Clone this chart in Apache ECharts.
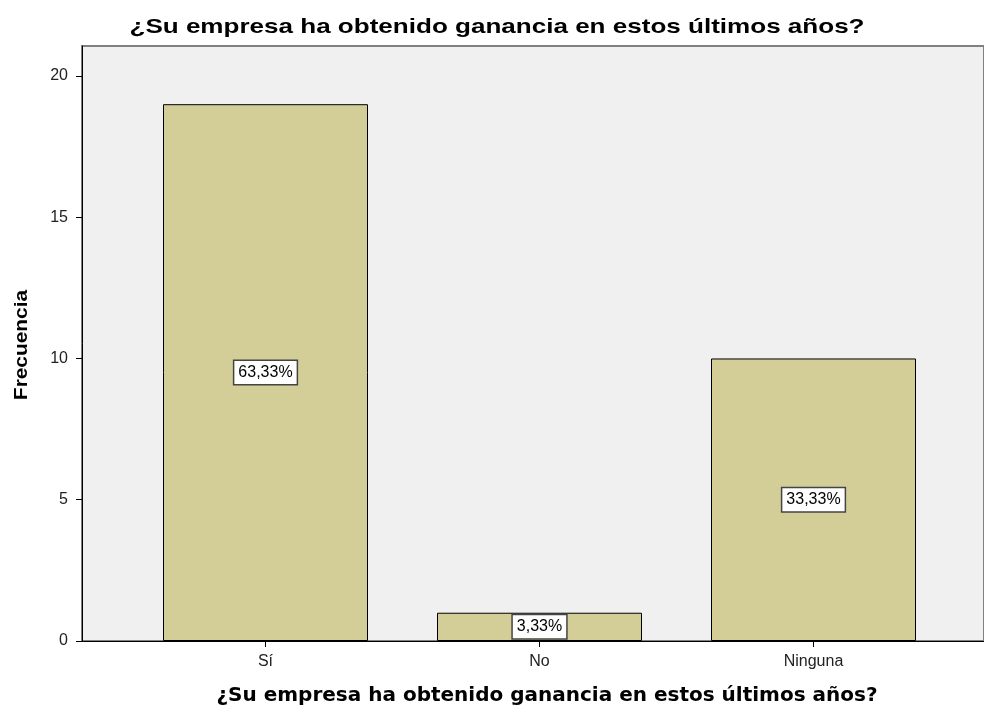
<!DOCTYPE html>
<html>
<head>
<meta charset="utf-8">
<script src="https://cdn.jsdelivr.net/npm/echarts@6/dist/echarts.min.js"></script>
<style>html,body{margin:0;padding:0;background:#fff}#c{width:984px;height:709px}</style>
</head>
<body>
<div id="c"></div>
<script>
var categories = ['Sí', 'No', 'Ninguna'];
var frequencies = [19, 1, 10];
var percentLabels = ['63,33%', '3,33%', '33,33%'];
var yTicks = [0, 5, 10, 15, 20];
var titleText = '¿Su empresa ha obtenido ganancia en estos últimos años?';
var xName = '¿Su empresa ha obtenido ganancia en estos últimos años?';
var yName = 'Frecuencia';

var FONT = '"Liberation Sans", Arial, sans-serif';
var YMAX = 21.06;
var chart = echarts.init(document.getElementById('c'));
chart.setOption({
  animation: false,
  backgroundColor: '#ffffff',
  textStyle: { fontFamily: FONT },
  graphic: [
    { type: 'text', x: 497, y: 27, scaleX: 1.24, z: 100,
      style: { text: titleText, font: 'bold 21px ' + FONT, fill: '#000', align: 'center', verticalAlign: 'middle' } },
    { type: 'text', x: 547, y: 696, z: 100,
      style: { text: xName, font: 'bold 20px "DejaVu Sans", sans-serif', fill: '#000', align: 'center', verticalAlign: 'middle' } },
    { type: 'text', x: 22, y: 345, rotation: Math.PI / 2, scaleX: 1.16, z: 100,
      style: { text: yName, font: 'bold 18px ' + FONT, fill: '#000', align: 'center', verticalAlign: 'middle' } }
  ],
  grid: [
    { left: 82, top: 46, width: 930, height: 595, show: true, backgroundColor: '#f0f0f0',
      borderColor: '#808080', borderWidth: 2 },
    { left: 128.5, top: 46, width: 822, height: 595 }
  ],
  xAxis: [
    { type: 'value', gridIndex: 0, min: 0, max: 1,
      axisLine: { show: true, onZero: false, lineStyle: { color: '#000', width: 1 } },
      axisTick: { show: false }, axisLabel: { show: false }, splitLine: { show: false } },
    { type: 'category', gridIndex: 1, data: categories,
      axisLine: { show: false },
      axisTick: { show: true, alignWithLabel: true, length: 6, lineStyle: { color: '#000' } },
      axisLabel: { color: '#222', fontSize: 16, margin: 13, fontFamily: FONT },
      splitLine: { show: false } }
  ],
  yAxis: [
    { type: 'value', gridIndex: 0, min: 0, max: YMAX, interval: 5,
      axisLine: { show: true, lineStyle: { color: '#000', width: 1 } },
      axisTick: { show: true, length: 6, lineStyle: { color: '#000' }, customValues: yTicks },
      axisLabel: { color: '#222', fontSize: 16, margin: 14, fontFamily: FONT, customValues: yTicks },
      splitLine: { show: false } },
    { type: 'value', gridIndex: 1, min: 0, max: YMAX, show: false, splitLine: { show: false } }
  ],
  series: [{
    type: 'bar', xAxisIndex: 1, yAxisIndex: 1,
    data: frequencies,
    barWidth: 205,
    itemStyle: { color: '#d3ce97', borderColor: '#000', borderWidth: 1 },
    label: {
      show: true, position: 'inside',
      formatter: function (p) { return percentLabels[p.dataIndex]; },
      color: '#000', fontSize: 16, fontFamily: FONT,
      backgroundColor: '#ffffff', borderColor: '#444', borderWidth: 1.5,
      padding: [4, 4, 3, 4]
    }
  }]
});
</script>
</body>
</html>
